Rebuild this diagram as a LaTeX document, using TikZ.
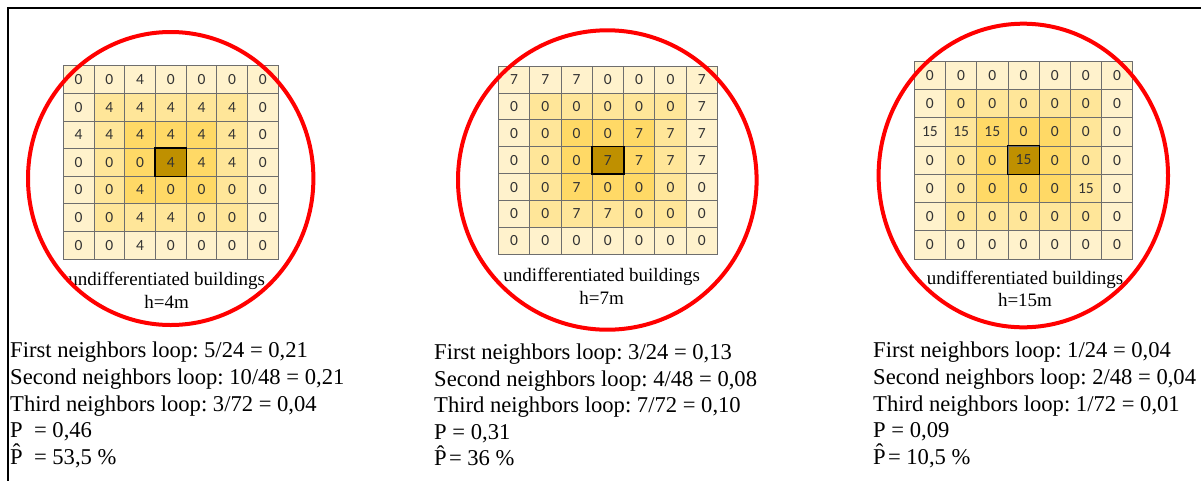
\documentclass[tikz,border=0pt]{standalone}
\usepackage{fontspec}
\setmainfont{Liberation Serif}
\newfontfamily\cellfont{Carlito}
\frenchspacing
\definecolor{ringO}{HTML}{FFF2CC}
\definecolor{ringM}{HTML}{FFE699}
\definecolor{ringI}{HTML}{FFD966}
\definecolor{ringC}{HTML}{BF9000}
\definecolor{gridline}{HTML}{6E6E6E}
\tikzset{
 cellbox/.style={draw=gridline, line width=0.8pt, inner sep=0pt, font=\cellfont\fontsize{15.5}{15.5}\selectfont, text=black!80},
 ringline/.style={draw=red, line width=4pt},
 caption/.style={align=center, font=\fontsize{19}{22.7}\selectfont, inner sep=0pt},
 stats/.style={align=left, anchor=west, font=\fontsize{22.6}{26.6}\selectfont, inner sep=0pt},
}
\newcommand{\Phat}{P\symbol{"0302}}
\newcommand{\mkgrid}[6]{%
 \foreach \rowvals [count=\ri from 0] in {#6} {
   \foreach \v [count=\ci from 0] in \rowvals {
     \pgfmathtruncatemacro\ring{max(abs(\ri-3),abs(\ci-3))}
     \ifcase\ring \def\cc{ringC}\or \def\cc{ringI}\or \def\cc{ringM}\else \def\cc{ringO}\fi
     \node[cellbox, fill=\cc, minimum width=#4pt, minimum height=#5pt] (#1-\ri-\ci) at ({#2+(\ci+0.5)*#4},{#3+(\ri+0.5)*#5}) {\v};
   }
 }
 \draw[black, line width=1.6pt] (#1-3-3.north west) rectangle (#1-3-3.south east);
}
\begin{document}
\begin{tikzpicture}[x=1pt,y=-1pt]
\useasboundingbox (0,0) rectangle (1201,480);
\draw[line width=2pt] (7.5,481) -- (7.5,8) -- (1202,8);
% grids
\mkgrid{ga}{63.3}{65.7}{30.7}{27.6}{{0,0,4,0,0,0,0},{0,4,4,4,4,4,0},{4,4,4,4,4,4,0},{0,0,0,4,4,4,0},{0,0,4,0,0,0,0},{0,0,4,4,0,0,0},{0,0,4,0,0,0,0}}
\mkgrid{gb}{498.3}{66}{31.3}{26.9}{{7,7,7,0,0,0,7},{0,0,0,0,0,0,7},{0,0,0,0,7,7,7},{0,0,0,7,7,7,7},{0,0,7,0,0,0,0},{0,0,7,7,0,0,0},{0,0,0,0,0,0,0}}
\mkgrid{gc}{914.3}{61}{31.2}{28.3}{{0,0,0,0,0,0,0},{0,0,0,0,0,0,0},{15,15,15,0,0,0,0},{0,0,0,15,0,0,0},{0,0,0,0,0,15,0},{0,0,0,0,0,0,0},{0,0,0,0,0,0,0}}
% captions
\node[caption] (capa) at (166.7,290) {undifferentiated buildings\\h=4m};
\node[caption] (capb) at (601.7,286) {undifferentiated buildings\\h=7m};
\node[caption] (capc) at (1025,289) {undifferentiated buildings\\h=15m};
% circles
\draw[ringline] (170.7,178.5) ellipse [x radius=142.7, y radius=146.5];
\draw[ringline] (607.3,180) ellipse [x radius=149.3, y radius=149.7];
\draw[ringline] (1023.3,175.5) ellipse [x radius=144.7, y radius=151.8];
% stats
\node[stats] (sa) at (10,405) {First neighbors loop: 5/24 = 0,21\\Second neighbors loop: 10/48 = 0,21\\Third neighbors loop: 3/72 = 0,04\\P\ \ = 0,46\\\Phat\ \ = 53,5 \%};
\node[stats] (sb) at (434,405) {First neighbors loop: 3/24 = 0,13\\Second neighbors loop: 4/48 = 0,08\\Third neighbors loop: 7/72 = 0,10\\P = 0,31\\\Phat\hspace{0.1em}= 36 \%};
\node[stats] (sc) at (873,405) {First neighbors loop: 1/24 = 0,04\\Second neighbors loop: 2/48 = 0,04\\Third neighbors loop: 1/72 = 0,01\\P = 0,09\\\Phat\hspace{0.1em}= 10,5 \%};
\end{tikzpicture}
\end{document}
